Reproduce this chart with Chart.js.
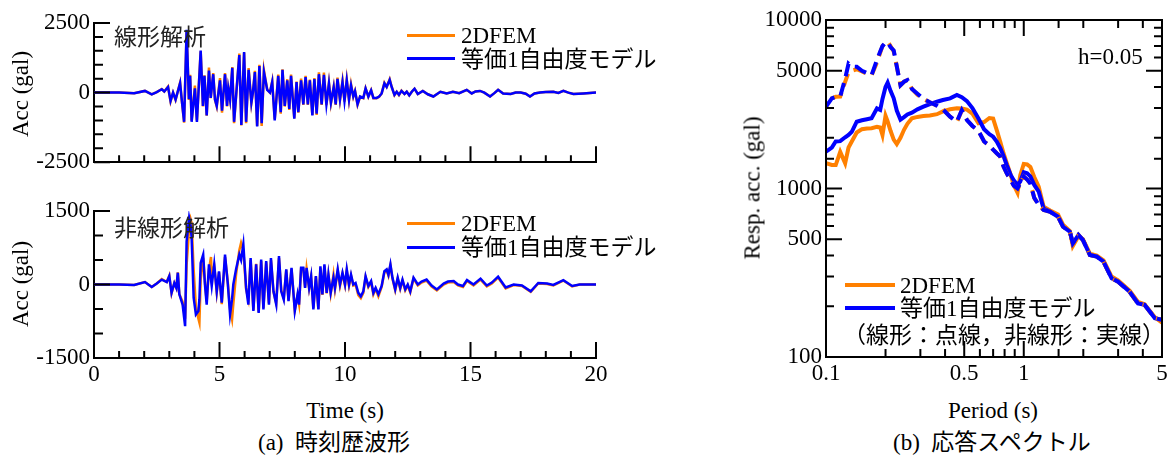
<!DOCTYPE html>
<html>
<head>
<meta charset="utf-8">
<script src="https://cdn.jsdelivr.net/npm/chart.js@4.4.0/dist/chart.umd.min.js"></script>
<style>
body { margin: 0; background: #fff; }
#wrap { position: relative; width: 1171px; height: 467px; overflow: hidden;
  font-family: 'Liberation Serif', 'Noto Sans CJK JP', serif; color: #000; }
canvas { position: absolute; }
.t { position: absolute; white-space: nowrap; font-size: 23px; line-height: 1; }
.c { transform: translate(-50%, -50%); }
.l { transform: translateY(-50%); }
.r { transform: translate(-50%, -50%) rotate(-90deg); }
.jp { font-family: 'Noto Sans CJK JP', sans-serif; color: #222; }
.sw { position: absolute; }
</style>
</head>
<body>
<div id="wrap">
  <canvas id="linChart" width="620" height="180" style="left:0;top:0"></canvas>
  <canvas id="nlChart" width="620" height="200" style="left:0;top:190px"></canvas>
  <canvas id="specChart" width="431" height="390" style="left:740px;top:0"></canvas>

  <div class="t r" style="left:20px;top:94px">Acc (gal)</div>
  <div class="t r" style="left:20px;top:284px">Acc (gal)</div>
  <div class="t l jp" style="left:114px;top:35px">線形解析</div>
  <div class="t l jp" style="left:114px;top:226px">非線形解析</div>

  <div class="sw" style="left:407px;top:34px;width:48px;height:3px;background:#ff8000"></div>
  <div class="t l" style="left:461px;top:35px">2DFEM</div>
  <div class="sw" style="left:407px;top:57px;width:48px;height:3px;background:#0000ff"></div>
  <div class="t l" style="left:461px;top:59px">等価1自由度モデル</div>

  <div class="sw" style="left:407px;top:222px;width:48px;height:3px;background:#ff8000"></div>
  <div class="t l" style="left:461px;top:223px">2DFEM</div>
  <div class="sw" style="left:407px;top:246px;width:48px;height:3px;background:#0000ff"></div>
  <div class="t l" style="left:461px;top:247px">等価1自由度モデル</div>

  <div class="t c" style="left:345px;top:410px">Time (s)</div>
  <div class="t l" style="left:258px;top:442px">(a)&nbsp; 時刻歴波形</div>

  <div class="t r" style="left:752px;top:188px">Resp. acc. (gal)</div>
  <div class="t l" style="left:1078px;top:56px">h=0.05</div>
  <div class="sw" style="left:845px;top:283px;width:50px;height:4px;background:#ff8000"></div>
  <div class="t l" style="left:900px;top:285px">2DFEM</div>
  <div class="sw" style="left:845px;top:306px;width:50px;height:4px;background:#0000ff"></div>
  <div class="t l" style="left:900px;top:308px">等価1自由度モデル</div>
  <div class="t l" style="left:843px;top:335px">（線形：点線，非線形：実線）</div>
  <div class="t c" style="left:993px;top:410px">Period (s)</div>
  <div class="t l" style="left:893px;top:442px">(b)&nbsp; 応答スペクトル</div>
</div>

<script>
// (a) time histories, linear analysis
const timeLin = [
  0, 1.0, 1.6, 2.03, 2.3, 2.5, 2.7, 2.8, 2.95, 3.05,
  3.15, 3.25, 3.43, 3.5, 3.59, 3.69, 3.78, 3.83, 3.89, 4.02,
  4.10, 4.25, 4.34, 4.40, 4.49, 4.58, 4.65, 4.75, 4.82, 4.89,
  5.02, 5.10, 5.22, 5.30, 5.35, 5.42, 5.51, 5.58, 5.70, 5.79,
  5.87, 5.98, 6.06, 6.16, 6.27, 6.33, 6.41, 6.50, 6.59, 6.68,
  6.77, 6.90, 7.01, 7.10, 7.20, 7.34, 7.44, 7.51, 7.60, 7.70,
  7.78, 7.85, 7.98, 8.07, 8.14, 8.25, 8.34, 8.43, 8.52, 8.60,
  8.70, 8.78, 8.87, 8.96, 9.07, 9.16, 9.26, 9.36, 9.44, 9.55,
  9.63, 9.70, 9.80, 9.90, 9.98, 10.07, 10.16, 10.24, 10.33, 10.40,
  10.50, 10.60, 10.73, 10.82, 10.93, 11.04, 11.13, 11.26, 11.36, 11.46,
  11.57, 11.66, 11.78, 11.86, 11.97, 12.06, 12.15, 12.25, 12.37, 12.46,
  12.56, 12.66, 12.77, 12.9, 13.1, 13.3, 13.52, 13.8, 14.05, 14.3,
  14.55, 14.85, 15.05, 15.2, 15.38, 15.55, 15.78, 15.95, 16.1, 16.3,
  16.6, 16.8, 17.0, 17.2, 17.37, 17.55, 17.77, 18.0, 18.3, 18.5,
  18.7, 18.9, 19.1, 19.5, 20.0
];
const accLinSdof = [
  0, 0, -20, 60, -60, 20, 120, 40, 200, -300,
  0, -250, 340, -300, -1050, 2260, -240, 600, -1050, 150,
  -1050, 1510, -480, 600, -820, 790, -190, 660, -250, -480,
  440, -650, 660, -480, 150, -250, 890, -1050, 330, 1350,
  -1160, 1460, -1050, 820, -360, 0, 740, -1220, 950, -1100,
  740, 100, 0, 380, -1000, 600, -700, 820, -480, 440,
  -590, 600, -940, 380, -700, 440, -420, 560, -420, 440,
  -820, 490, -760, 660, -420, 640, -420, 330, -360, 200,
  -420, 490, -250, 380, -300, 440, -250, 260, -140, 50,
  -420, -140, -190, 150, -140, 80, -190, -190, -140, -30,
  330, 200, 460, 200, -80, 30, -80, 60, -50, 30,
  -100, 30, 140, -50, 60, -60, -140, 30, -30, 30,
  -20, 100, -30, 40, 60, 0, -140, -20, 100, -30,
  -50, 0, 0, -40, -140, -30, 0, 20, 30, -10,
  60, 0, -50, -30, 0
];
const accLinFem = [
  0, 0, -20, 60, -60, 20, 130, 40, 220, -320,
  0, -260, 360, -300, -1080, 2200, -260, 640, -1000, 250,
  -1000, 1480, -500, 620, -830, 900, -200, 700, -260, -500,
  520, -720, 700, -500, 160, -260, 920, -1100, 340, 1400,
  -1180, 1430, -1100, 880, -380, 0, 780, -1200, 1000, -1200,
  800, 110, 0, 400, -950, 650, -760, 840, -500, 480,
  -620, 650, -920, 400, -720, 500, -440, 600, -440, 470,
  -800, 520, -800, 730, -440, 720, -450, 350, -380, 220,
  -440, 540, -270, 420, -320, 470, -270, 300, -150, 60,
  -440, -150, -200, 160, -150, 90, -200, -200, -150, -30,
  350, 210, 480, 210, -90, 30, -90, 70, -50, 30,
  -100, 30, 140, -50, 60, -60, -140, 30, -30, 30,
  -20, 100, -30, 40, 60, 0, -140, -20, 100, -30,
  -50, 0, 0, -40, -140, -30, 0, 20, 30, -10,
  60, 0, -50, -30, 0
];

// (a) time histories, nonlinear analysis
const timeNl = [
  0, 1.0, 1.6, 2.03, 2.3, 2.5, 2.7, 2.9, 3.0, 3.09,
  3.2, 3.28, 3.34, 3.40, 3.53, 3.63, 3.69, 3.79, 3.85, 3.89,
  3.97, 4.06, 4.16, 4.20, 4.25, 4.35, 4.42, 4.49, 4.58, 4.66,
  4.69, 4.79, 4.89, 4.98, 5.09, 5.22, 5.33, 5.42, 5.50, 5.55,
  5.66, 5.79, 5.86, 5.95, 6.06, 6.15, 6.24, 6.35, 6.46, 6.56,
  6.66, 6.75, 6.86, 6.97, 7.05, 7.15, 7.26, 7.37, 7.46, 7.56,
  7.66, 7.75, 7.87, 8.0, 8.11, 8.17, 8.25, 8.34, 8.41, 8.47,
  8.57, 8.65, 8.74, 8.84, 8.94, 9.02, 9.10, 9.18, 9.27, 9.34,
  9.43, 9.54, 9.60, 9.71, 9.80, 9.90, 10.0, 10.07, 10.16, 10.24,
  10.33, 10.42, 10.53, 10.63, 10.73, 10.82, 10.93, 11.04, 11.13, 11.22,
  11.33, 11.46, 11.57, 11.66, 11.73, 11.81, 11.89, 12.0, 12.1, 12.2,
  12.29, 12.4, 12.5, 12.6, 12.73, 12.9, 13.05, 13.25, 13.45, 13.66,
  13.93, 14.1, 14.33, 14.5, 14.7, 14.86, 15.12, 15.4, 15.65, 15.85,
  16.1, 16.4, 16.72, 17.05, 17.4, 17.7, 18.05, 18.3, 18.7, 19.05,
  19.35, 20.0
];
const accNlSdof = [
  0, 0, -10, 50, -50, 20, 100, 50, 170, -170,
  30, -70, 240, -200, -410, -850, 880, 1360, 1200, 950,
  -270, -610, -540, -300, 440, 610, 0, -410, 410, 100,
  -30, 410, -140, 270, -370, 610, 20, -610, -300, 0,
  310, 610, 500, 820, -70, -410, 540, -540, 410, -580,
  510, -510, 480, -410, 540, -140, -410, 580, -140, -310,
  310, -340, 340, -540, -200, -410, 340, 340, -70, 340,
  -70, 170, -510, 170, -510, 370, -200, 410, -170, 200,
  -170, 140, -70, 310, 0, 240, 0, 310, 0, 200,
  0, 30, -170, -240, -140, 170, -30, 70, -170, -70,
  -200, -30, 270, 310, 200, 410, 140, -100, 140, -70,
  100, -100, 0, -140, 140, 0, 60, 100, -20, -100,
  20, 60, 70, 0, -30, 90, 0, 120, -20, 40,
  160, -60, 0, -20, -140, 30, 20, -10, 90, -30,
  0, 0
];
const accNlFem = [
  0, 0, -10, 50, -50, 20, 110, 50, 180, -180,
  30, -70, 250, -200, -350, -700, 400, 1150, 1330, 1250,
  300, -450, -700, -780, 100, 545, 50, -350, 300, 560,
  200, 380, -160, 250, -400, 560, 60, -500, -710, -400,
  200, 700, 850, 700, -100, -300, 500, -520, 420, -560,
  480, -480, 450, -380, 500, -150, -380, 540, -120, -280,
  300, -320, 320, -520, -220, -400, 320, 320, -60, 320,
  -80, 160, -480, 160, -500, 340, -210, 380, -180, 190,
  -190, 200, -100, 280, -30, 220, -20, 280, -30, 180,
  -20, 0, -220, -280, -170, 150, -50, 50, -200, -90,
  -240, -50, 250, 290, 180, 390, 120, -120, 120, -90,
  80, -120, -20, -160, 120, -20, 40, 80, -40, -120,
  0, 40, 50, -20, -50, 70, -20, 100, -40, 20,
  140, -80, -10, -30, -150, 20, 10, -20, 80, -40,
  0, 0
];

// (b) response spectra, h=0.05
const periods = [
  0.1, 0.107, 0.112, 0.118, 0.125, 0.13, 0.135, 0.143, 0.152, 0.161,
  0.17, 0.181, 0.188, 0.193, 0.2, 0.205, 0.212, 0.22, 0.228, 0.238,
  0.248, 0.258, 0.272, 0.29, 0.311, 0.335, 0.364, 0.39, 0.424, 0.459,
  0.486, 0.516, 0.55, 0.59, 0.63, 0.67, 0.70, 0.73, 0.76, 0.79,
  0.82, 0.86, 0.89, 0.93, 0.96, 1.0, 1.04, 1.08, 1.13, 1.19,
  1.26, 1.36, 1.49, 1.58, 1.71, 1.77, 1.89, 1.99, 2.16, 2.34,
  2.53, 2.78, 3.0, 3.43, 3.78, 4.08, 4.6, 5.0
];
const saFemLin = [
  3060, 3430, 3500, 3510, 4300, 4900, 5000, 5100, 4950, 4800,
  4700, 5600, 6400, 7000, 7400, 7450, 7000, 6500, 5300, 4100,
  4300, 4400, 3900, 3600, 3400, 3250, 3100, 2950, 2670, 2490,
  2900, 2560, 2350, 2200, 1900, 1800, 1700, 1620, 1550, 1350,
  1230, 1120, 1040, 990, 1080, 1180, 1130, 1070, 880, 800,
  745, 728, 680, 593, 554, 473, 530, 495, 403, 394,
  368, 293, 280, 244, 208, 204, 170, 166
];
const saSdofLin = [
  3060, 3430, 3500, 3510, 4500, 5500, 5300, 5280, 5000, 4850,
  4700, 5800, 6500, 7000, 7350, 7400, 6900, 6600, 5300, 4100,
  4300, 4400, 3900, 3650, 3400, 3250, 3100, 2950, 2670, 2490,
  2920, 2550, 2350, 2200, 1900, 1800, 1700, 1620, 1550, 1350,
  1230, 1120, 1040, 1000, 1080, 1180, 1130, 1070, 880, 800,
  745, 728, 680, 593, 554, 473, 530, 495, 403, 394,
  368, 293, 280, 244, 208, 204, 170, 166
];
const saFemNl = [
  1413, 1380, 1378, 1650, 1413, 1750, 1900, 2150, 2250, 2270,
  2280, 2320, 2300, 2075, 2700, 2500, 2200, 1950, 1836, 2000,
  2230, 2420, 2610, 2660, 2690, 2710, 2760, 2870, 2950, 2990,
  2980, 2940, 2780, 2440, 2480, 2620, 2600, 2220, 1900, 1620,
  1420, 1200, 1050, 944, 1200, 1400, 1390, 1340, 1170, 1025,
  780, 740, 700, 610, 560, 455, 520, 500, 410, 400,
  375, 300, 285, 248, 212, 206, 172, 160
];
const saSdofNl = [
  1653, 1750, 1900, 1910, 2014, 2080, 2170, 2490, 2540, 2576,
  2611, 2990, 2926, 3400, 4000, 4247, 3800, 3428, 2900, 2560,
  2650, 2750, 2820, 2950, 3058, 3170, 3271, 3350, 3428, 3590,
  3480, 3300, 3000, 2600, 2250, 2100, 2030, 1900, 1740, 1560,
  1380, 1200, 1120, 1050, 1100, 1250, 1230, 1180, 1050, 958,
  760, 728, 680, 593, 554, 473, 530, 495, 403, 394,
  368, 293, 280, 244, 208, 204, 170, 166
];

const xLabelsSpec = [0.1, 0.5, 1, 5];
const yLabelsSpec = [100, 500, 1000, 5000, 10000];

const ORANGE = '#ff8000';
const BLUE = '#0000ff';
const tickFont = { family: 'Liberation Serif', size: 23 };

function pts(xs, ys) {
  return xs.map((x, i) => ({ x: x, y: ys[i] }));
}

function near(v, list) {
  return list.some(l => Math.abs(v - l) / l < 1e-6);
}

// inward tick marks (and closed frame for the spectrum)
const inTicks = {
  id: 'inTicks',
  afterDraw(chart, args, o) {
    const ctx = chart.ctx;
    const a = chart.chartArea;
    const xs = chart.scales.x, ys = chart.scales.y;
    const xt = o.xTicks(xs), yt = o.yTicks(ys);
    ctx.save();
    ctx.strokeStyle = '#000';
    ctx.lineWidth = 2;
    ctx.beginPath();
    xt.forEach(([v, len]) => {
      const p = xs.getPixelForValue(v);
      ctx.moveTo(p, a.bottom); ctx.lineTo(p, a.bottom - len);
      if (o.box) { ctx.moveTo(p, a.top); ctx.lineTo(p, a.top + len); }
    });
    yt.forEach(([v, len]) => {
      const p = ys.getPixelForValue(v);
      ctx.moveTo(a.left, p); ctx.lineTo(a.left + len, p);
      if (o.box) { ctx.moveTo(a.right, p); ctx.lineTo(a.right - len, p); }
    });
    ctx.stroke();
    if (o.box) ctx.strokeRect(a.left, a.top, a.right - a.left, a.bottom - a.top);
    ctx.restore();
  }
};

function timeChart(id, time, fem, sdof, yMax, padTop, xHeight, showX) {
  const xTicks = () => {
    const out = [];
    for (let i = 0; i <= 20; i++) out.push([i, i % 5 === 0 ? 16 : 7]);
    return out;
  };
  const yTicks = () => {
    const out = [];
    for (let v = -yMax; v <= yMax; v += 500) out.push([v, v % yMax === 0 ? 16 : 9]);
    return out;
  };
  return new Chart(document.getElementById(id), {
    type: 'line',
    data: {
      datasets: [
        { data: pts(time, fem), borderColor: ORANGE, borderWidth: 2.5, pointRadius: 0, order: 2 },
        { data: pts(time, sdof), borderColor: BLUE, borderWidth: 2.5, pointRadius: 0, order: 1 }
      ]
    },
    options: {
      responsive: false,
      animation: false,
      layout: { padding: { top: padTop, right: 24, left: 0, bottom: 0 } },
      plugins: { legend: { display: false }, tooltip: { enabled: false }, inTicks: { xTicks, yTicks } },
      scales: {
        x: {
          type: 'linear', min: 0, max: 20,
          grid: { display: false, drawTicks: false },
          border: { display: true, color: '#000', width: 2 },
          ticks: { display: showX, stepSize: 5, padding: 3, maxRotation: 0, color: '#000', font: tickFont,
            callback: v => String(v) },
          afterFit: s => { s.height = xHeight; }
        },
        y: {
          min: -yMax, max: yMax,
          grid: { display: false, drawTicks: false },
          border: { display: true, color: '#000', width: 2 },
          ticks: { stepSize: yMax, padding: 4, color: '#000', font: tickFont,
            callback: v => String(v) },
          afterFit: s => { s.width = 94; }
        }
      }
    },
    plugins: [inTicks]
  });
}

const logTicks = (labels) => (scale) =>
  scale.ticks.map(t => [t.value, near(t.value, labels) ? 16 : 8])
    .filter(t => t[0] > scale.min * 1.0001 && t[0] < scale.max * 0.9999);

function specChart() {
  new Chart(document.getElementById('specChart'), {
    type: 'line',
    data: {
      datasets: [
        { data: pts(periods, saSdofLin), borderColor: BLUE, borderWidth: 4, borderDash: [13, 7], pointRadius: 0, order: 1 },
        { data: pts(periods, saFemLin), borderColor: ORANGE, borderWidth: 4, borderDash: [13, 7], borderDashOffset: 10, pointRadius: 0, order: 2 },
        { data: pts(periods, saSdofNl), borderColor: BLUE, borderWidth: 4, pointRadius: 0, order: 3 },
        { data: pts(periods, saFemNl), borderColor: ORANGE, borderWidth: 4, pointRadius: 0, order: 4 }
      ]
    },
    options: {
      responsive: false,
      animation: false,
      layout: { padding: { top: 20, right: 9, left: 0, bottom: 0 } },
      plugins: {
        legend: { display: false }, tooltip: { enabled: false },
        inTicks: { box: true, xTicks: logTicks(xLabelsSpec), yTicks: logTicks(yLabelsSpec) }
      },
      scales: {
        x: {
          type: 'logarithmic', min: 0.1, max: 5,
          grid: { display: false, drawTicks: false },
          border: { display: true, color: '#000', width: 2 },
          ticks: { autoSkip: false, maxRotation: 0, padding: 3, color: '#000', font: tickFont,
            callback: v => near(v, xLabelsSpec) ? String(v) : '' },
          afterFit: s => { s.height = 33; }
        },
        y: {
          type: 'logarithmic', min: 100, max: 10000,
          grid: { display: false, drawTicks: false },
          border: { display: true, color: '#000', width: 2 },
          ticks: { autoSkip: false, padding: 4, color: '#000', font: tickFont,
            callback: v => near(v, yLabelsSpec) ? String(v) : '' },
          afterFit: s => { s.width = 86; }
        }
      }
    },
    plugins: [inTicks]
  });
}

function drawAll() {
  timeChart('linChart', timeLin, accLinFem, accLinSdof, 2500, 23, 11, false);
  timeChart('nlChart', timeNl, accNlFem, accNlSdof, 1500, 21, 32, true);
  specChart();
}

document.fonts.load('23px "Liberation Serif"').then(drawAll, drawAll);
</script>
</body>
</html>
